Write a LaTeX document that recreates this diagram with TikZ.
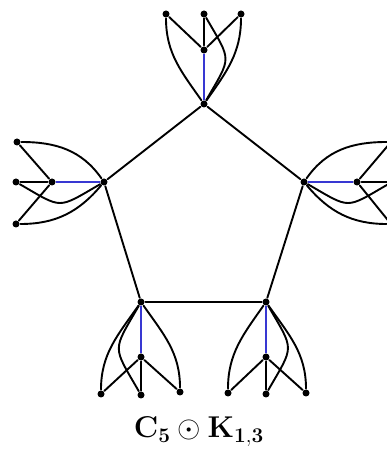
\documentclass[tikz,border=0pt]{standalone}
\usepackage{tikz}
\definecolor{hubblue}{RGB}{56,56,210}
\tikzset{
  dot/.style={circle,fill=black,inner sep=0pt,minimum size=7pt},
  hubedge/.style={draw=hubblue},
  caption/.style={font=\huge,scale=1.45,transform shape,anchor=base},
}
\begin{document}
\begin{tikzpicture}[x=1pt,y=1pt,line width=1.9pt,line cap=round]
  \clip (0,0) rectangle (387,453);   % canvas 387x453 px, y up
  % ---- pentagon C5 (centres) ----
  \node[dot] (T0) at (204,349) {};   % px(204,104)
  \node[dot] (L0) at (104,271) {};   % px(104,182)
  \node[dot] (R0) at (304,271) {};   % px(304,182)
  \node[dot] (B0) at (141,151) {};   % px(141,302)
  \node[dot] (G0) at (266,151) {};   % px(266,302)
  % ---- K_{1,3} copies: hub 1, leaves a b c ----
  \node[dot] (T1) at (204,403) {};
  \node[dot] (Ta) at (166,439) {};
  \node[dot] (Tb) at (204,439) {};
  \node[dot] (Tc) at (241,439) {};
  \node[dot] (L1) at (52,271) {};
  \node[dot] (La) at (17,311) {};
  \node[dot] (Lb) at (16,271) {};
  \node[dot] (Lc) at (16,229) {};
  \node[dot] (R1) at (357,271) {};
  \node[dot] (Ra) at (391,311) {};   % cut off at right edge
  \node[dot] (Rb) at (392,271) {};
  \node[dot] (Rc) at (391,229) {};
  \node[dot] (B1) at (141,96) {};
  \node[dot] (Ba) at (101,59) {};
  \node[dot] (Bb) at (141,58) {};
  \node[dot] (Bc) at (180,61) {};
  \node[dot] (G1) at (266,96) {};
  \node[dot] (Ga) at (228,60) {};
  \node[dot] (Gb) at (266,59) {};
  \node[dot] (Gc) at (306,60) {};
  % ---- cycle ----
  \draw (T0) -- (L0) -- (B0) -- (G0) -- (R0) -- (T0);
  % ---- centre to hub (blue) ----
  \draw[hubedge] (T0) -- (T1);
  \draw[hubedge] (L0) -- (L1);
  \draw[hubedge] (R0) -- (R1);
  \draw[hubedge] (B0) -- (B1);
  \draw[hubedge] (G0) -- (G1);
  % ---- star edges ----
  \draw (T1) -- (Ta)  (T1) -- (Tb)  (T1) -- (Tc);
  \draw (L1) -- (La)  (L1) -- (Lb)  (L1) -- (Lc);
  \draw (R1) -- (Ra)  (R1) -- (Rb)  (R1) -- (Rc);
  \draw (B1) -- (Ba)  (B1) -- (Bb)  (B1) -- (Bc);
  \draw (G1) -- (Ga)  (G1) -- (Gb)  (G1) -- (Gc);
  % ---- centre to leaves (curves) ----
  \draw (T0) to[out=125,in=-90] (Ta);
  \draw (T0) to[out=55,in=-90]  (Tc);
  \draw (T0) to[out=60,in=-60,looseness=1.6]  (Tb);
  \draw (L0) to[out=125,in=0]   (La);
  \draw (L0) to[out=-130,in=0]  (Lc);
  \draw (L0) to[out=-150,in=-30,looseness=1.6] (Lb);
  \draw (R0) to[out=55,in=180]  (Ra);
  \draw (R0) to[out=-50,in=180] (Rc);
  \draw (R0) to[out=-30,in=-150,looseness=1.6] (Rb);
  \draw (B0) to[out=-125,in=90] (Ba);
  \draw (B0) to[out=-55,in=90]  (Bc);
  \draw (B0) to[out=-120,in=120,looseness=1.6] (Bb);
  \draw (G0) to[out=-125,in=90] (Ga);
  \draw (G0) to[out=-55,in=90]  (Gc);
  \draw (G0) to[out=-60,in=60,looseness=1.6]  (Gb);
  % ---- caption ----
  \node[caption] (title) at (199,15) {$\mathbf{C}_{\mathbf{5}}\odot\mathbf{K}_{\mathbf{1,3}}$};
\end{tikzpicture}
\end{document}
